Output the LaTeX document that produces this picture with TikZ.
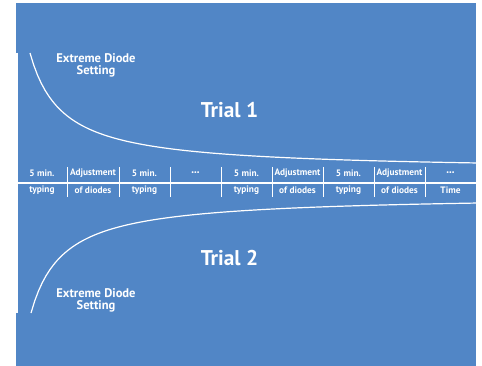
\documentclass[tikz,border=0pt]{standalone}
\usepackage{fontspec}
\setmainfont{PT Sans}[BoldFont={PT Sans Bold}]
\usetikzlibrary{positioning}
\definecolor{chart_blue}{RGB}{81, 134, 198}
\newcommand{\moredots}{{\fontsize{4.5}{5}\selectfont\textbullet\textbullet\textbullet}}

\begin{document}
\begin{tikzpicture}[x=0.75pt, y=-0.75pt, font=\bfseries,
  every node/.style={text=white, inner sep=0pt},
  chartline/.style={white, line width=0.9pt},
  celltext/.style={font=\bfseries\fontsize{7}{8}\selectfont},
  sidetext/.style={align=center, font=\bfseries\fontsize{9.4}{9}\selectfont},
  trialtext/.style={font=\bfseries\fontsize{16}{18}\selectfont}]
\useasboundingbox (0,0) rectangle (482,366);
\fill[chart_blue] (16,3) rectangle (476,366);

% axes
\draw[chartline] (17,53) -- (17,313);
\draw[chartline] (17,183) -- (476,183);

% decay of the diode setting
\draw[chartline, domain=30:476, samples=120] plot (\x, {171-3847/(\x+2.6)});
\draw[chartline, domain=31:476, samples=120] plot (\x, {195+3847/(\x+1.6)});

\foreach \x in {67,119,170,221,272,323,374,425}
  \draw[white, line width=0.6pt] (\x,167) -- (\x,197);

\foreach \x/\up/\lo [count=\i] in {42/5 min./typing, 93/Adjustment/of diodes,
    144.5/5 min./typing, 195.5/\moredots/, 246.5/5 min./typing,
    297.5/Adjustment/of diodes, 348.5/5 min./typing,
    399.5/Adjustment/of diodes, 450.5/\moredots/Time}
  \node[celltext] (up\i) at (\x,173) {\up}
    node[celltext] (lo\i) at (\x,190.5) {\lo};

\node[sidetext] (setting1) at (96,65) {Extreme Diode\\Setting};
\node[sidetext] (setting2) at (96,300.5) {Extreme Diode\\Setting};
\node[trialtext] (trial1) at (229.5,110) {Trial 1};
\node[trialtext] (trial2) at (229.5,258) {Trial 2};

\end{tikzpicture}
\end{document}
